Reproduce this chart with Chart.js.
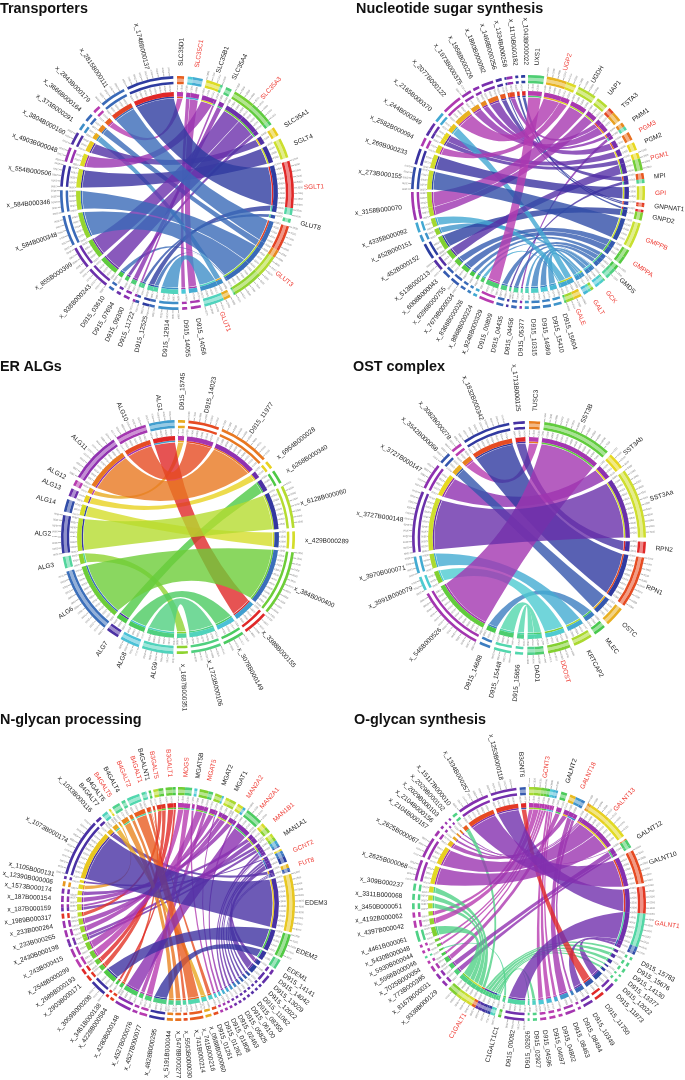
<!DOCTYPE html>
<html>
<head>
<meta charset="utf-8">
<title>Chord diagrams</title>
<script src="https://cdn.jsdelivr.net/npm/chart.js@4"></script>
<style>
html,body{margin:0;padding:0;background:#fff;width:685px;height:1080px;overflow:hidden}
#page{position:relative;width:685px;height:1080px;overflow:hidden}
canvas{position:absolute}
.ttl{position:absolute;font:bold 14.4px/16px "Liberation Sans",Arial,sans-serif;color:#111;white-space:nowrap;z-index:5}
</style>
</head>
<body>
<div id="page"></div>
<script>
/* ---------- Transporters ---------- */
const transportersNames = ['SLC35D1','SLC35C1','SLC35B1','SLC35A4','SLC35A3','SLC35A1','SGLT4','SGLT1','GLUT8','GLUT3','GLUT1','D915_14056','D915_14055','D915_12914','D915_12525','D915_11722','D915_09300','D915_07694','D915_03610','x_938B000243','x_855B000399','x_584B000348','x_584B000346','x_554B000506','x_4903B000048','x_3804B000160','x_373B000291','x_3666B000164','x_2843B000179','x_2815B000111','x_1748B000137'];
const transportersRed = ['SLC35C1','SLC35A3','SGLT1','GLUT3','GLUT1'];
const transportersLinks = [[0,28,3.5,3.7],[1,12,2.5,2.5],[1,11,5,5],[2,24,7.2,7.2],[2,15,1.3,1.3],[3,16,3,3],[4,19,11,11],[4,20,11,11],[4,17,2.2,2.2],[5,25,4.5,6.4],[6,23,10,10.8],[7,30,23.5,23.5],[7,14,3.5,3.5],[8,15,2,2],[9,29,13,13],[9,22,11,11],[9,21,15.2,15.2],[9,27,4,4],[9,14,0.3,2.7],[9,18,0.7,2.7],[10,13,10,10],[10,26,3.6,3.6]];
const transportersTicked = [2,4,7,9,10,13,14,15,19,20,21,22,23,24,25,29,30];

/* ---------- Nucleotide sugar synthesis ---------- */
const nucleotideNames = ['UXS1','UGP2','UGDH','UAP1','TSTA3','PMM1','PGM3','PGM2','PGM1','MPI','GPI','GNPNAT1','GNPD2','GMPPB','GMPPA','GMDS','GCK','GALT','GALE','D915_15604','D915_15410','D915_14869','D915_10315','D915_05377','D915_04456','D915_04435','D915_00809','x_9248B000329','x_8868B000224','x_8368B000026','x_7679B000034','x_6396B000755','x_6008B000043','x_513B000213','x_452B000152','x_452B000151','x_4335B000092','x_3158B000070','x_273B000155','x_269B000233','x_2582B000094','x_244B000349','x_2165B000370','x_2077B000122','x_1973B000375','x_1958B000226','x_1860B000092','x_1468B000256','x_1334B000258','x_1170B000182','x_1043B000022'];
const nucleotideRed = ['UGP2','PGM3','PGM1','GPI','GMPPB','GMPPA','GCK','GALT','GALE'];
const nucleotideLinks = [[0,27,8,7.5],[1,43,10,10],[1,40,5,4.5],[2,37,9.5,9],[3,37,6,5],[4,44,5,5],[4,48,3,3],[5,23,2,1.2],[5,45,2.2,3.2],[6,46,4.2,6],[7,41,4,4],[8,33,6,5.6],[8,41,3,3],[9,47,3,3],[9,25,2,1.2],[10,39,7,8],[11,48,1,1],[11,49,1,1.5],[12,34,4,8],[12,50,1.3,2],[13,38,13,11],[14,32,4,4],[14,31,4,4.5],[15,26,3,3.5],[15,24,2.5,2.7],[15,30,2.5,2.6],[16,21,2.5,4.2],[16,20,2.5,4],[16,29,0.6,1.8],[17,19,2.5,4],[17,22,1.5,2],[17,35,1.5,3.6],[18,42,4,5],[18,36,4,5],[18,28,1,2]];
const nucleotideTicked = [1,2,8,15,18,31,33,38,44];

/* ---------- ER ALGs ---------- */
const erNames = ['D915_15745','D915_14023','D915_11977','x_6954B000028','x_6268B000340','x_6128B000060','x_429B000289','x_384B000400','x_3388B000155','x_3078B000149','x_1723B000106','x_1687B000351','ALG9','ALG8','ALG7','ALG6','ALG3','ALG2','ALG14','ALG13','ALG12','ALG11','ALG10','ALG1'];
const erRed = [];
const erLinks = [[23,8,12.8,12.5],[22,1,15.6,15.4],[21,2,25.5,25.6],[20,0,3,3.5],[19,3,4,4],[18,6,6.3,8.7],[17,5,19,21.5],[16,11,5.8,5.5],[15,7,33.6,32.5],[14,4,6.3,7],[13,9,9.7,10.7],[12,10,15.7,15]];
const erTicked = [1,2,5,7,8,9,10,12,13,15,17,21,22,23];

/* ---------- OST complex ---------- */
const ostNames = ['TUSC3','SST3B','SST3Ab','SST3Aa','RPN2','RPN1','OSTC','MLEC','KRTCAP2','DDOST','DAD1','D915_15656','D915_15448','D915_14688','x_546B000526','x_3991B000079','x_3970B000071','x_3727B000148','x_3727B000147','x_3542B000068','x_3082B000278','x_1832B000342','x_1713B000125'];
const ostRed = ['DDOST'];
const ostLinks = [[0,20,5.5,5.6],[1,14,34.8,34],[2,18,8.3,13],[3,17,35,30.7],[4,22,5.8,5.7],[5,21,25.7,24],[6,19,10,5.8],[7,13,6,5.5],[8,16,9.5,8.4],[9,15,11.3,7],[10,12,4.5,8.6],[10,11,3.8,4]];
const ostTicked = [1,2,3,5,9,10,12,14,15,16,17,18,19,20,21];

/* ---------- N-glycan processing ---------- */
const nglycanNames = ['MOGS','MGAT5B','MGAT5','MGAT2','MGAT1','MAN2A2','MAN2A1','MAN1B1','MAN1A1','GCNT2','FUT8','EDEM3','EDEM2','EDEM1','D915_14141','D915_14042','D915_13029','D915_12022','D915_11062','D915_08355','D915_06100','D915_05825','D915_02463','D915_01808','D915_01262','D915_01261','x_0588B000060','x_741B000216','x_741B000214','x_5563B000030','x_5478B000277','x_5191B000044','x_4828B000295','x_4527B000077','x_4527B000076','x_4280B000148','x_4228B000584','x_3461B000138','x_3059B000208','x_2903B000171','x_2689B000193','x_2548B000299','x_243B000415','x_2430B000198','x_233B000265','x_233B000264','x_1989B000317','x_187B000159','x_187B000154','x_1573B000174','x_12390B000006','x_1105B000131','x_1073B000174','x_1033B000116','B4GALT7','B4GALT6','B4GALT5','B4GALT4','B4GALT2','B4GALT1','B4GALNT1','B3GALT5','B3GALT1'];
const nglycanRed = ['MOGS','MGAT5','MAN2A2','MAN2A1','MAN1B1','GCNT2','FUT8','B4GALT5','B4GALT2','B4GALT1','B3GALT5','B3GALT1'];
const nglycanLinks = [[0,33,3.5,3.9],[0,41,3.5,4.5],[1,25,1.5,1.4],[2,42,4.5,4.5],[2,34,2.3,2.5],[3,44,3.5,3.5],[3,24,1,1.4],[4,45,3.5,3.5],[4,47,2,1.5],[5,48,3,3],[5,23,1.4,1.4],[6,35,8.6,8.3],[7,49,2.5,2.5],[7,43,3,2],[8,43,2,2],[8,47,2,2],[8,22,1.6,1.4],[8,21,1.5,1.4],[8,14,0.5,2.5],[9,51,1,1.5],[9,15,3,4.5],[9,20,1.5,1.4],[9,19,1.5,1.4],[10,53,2,3],[10,18,0.7,1.4],[10,17,0.7,1.4],[10,16,0.6,1.4],[11,52,29,29],[12,38,12.3,8],[13,32,5,7.7],[54,27,3,3],[55,50,1,2.5],[56,31,4,3],[57,30,2,3],[58,28,6.5,6.7],[59,29,2,2],[59,26,0.5,2.4],[60,36,1.2,2],[61,39,2.5,3],[61,46,2.5,2.5],[62,40,3.5,3],[62,37,1.5,1.5]];
const nglycanTicked = [6,11,12,38,52];

/* ---------- O-glycan synthesis ---------- */
const oglycanNames = ['GCNT3','GALNT2','GALNT18','GALNT13','GALNT12','GALNT10','GALNT1','D915_15783','D915_15676','D915_14130','D915_13377','D915_12022','D915_11873','D915_11750','D915_10349','D915_08494','D915_08463','D915_04802','D915_04697','D915_04596','D915_02927','D915_02926','D915_00082','C1GALT1C1','C1GALT1','x_9338B000129','x_8167B000031','x_773B000385','x_7025B000054','x_5966B000046','x_5930B000044','x_5430B000048','x_4461B000061','x_4397B000042','x_4192B000062','x_3450B000051','x_3311B000068','x_309B000237','x_2625B000068','x_2625B000067','x_2104B000157','x_2104B000156','x_2029B000103','x_2029B000102','x_15117B000010','x_1334B000257','x_1253B000118','B3GNT6'];
const oglycanRed = ['GCNT3','GALNT18','GALNT13','GALNT1','C1GALT1'];
const oglycanLinks = [[0,34,2.5,2.5],[0,33,3.5,3.5],[0,31,1.5,1.5],[0,30,1.5,1.5],[0,28,1.5,1.5],[0,19,1.5,3],[0,18,1.5,3],[0,17,1,2],[1,27,3,3],[2,40,3,3],[2,16,3,5],[2,15,2,1.5],[3,39,11,10.5],[3,38,11,10.5],[3,41,1,1.5],[3,42,1,1],[4,26,3,3],[4,43,0.6,1],[4,25,1.4,3],[5,45,17,16],[6,46,13.5,13],[6,22,17,10],[6,14,2.5,5],[6,12,1.6,5],[47,13,3,5],[23,29,1.5,1],[24,44,2,2.5],[24,37,3,3.5],[24,36,3,3],[24,35,3,3],[24,32,5,5.5],[24,11,1.5,1.5],[24,10,1,1],[24,9,2,2],[24,8,2,2],[24,7,1.5,1.5],[24,20,1.5,2],[24,21,1,1]];
const oglycanTicked = [0,3,5,6,22,24,38,39,45,46];

/* ---------- page layout of the six panels ---------- */
/* geneRanges: index ranges of the named genes, whose outer band is filled */
const panels = [
  {title:'Transporters',              tx:0,   ty:0,   cx:177, cy:193, names:transportersNames, red:transportersRed, links:transportersLinks, ticked:transportersTicked, geneRanges:[[0,10]],        labelGap:5},
  {title:'Nucleotide sugar synthesis',tx:356, ty:0,   cx:528, cy:192, names:nucleotideNames,   red:nucleotideRed,   links:nucleotideLinks,   ticked:nucleotideTicked,   geneRanges:[[0,18]],        labelGap:4.8},
  {title:'ER ALGs',                   tx:0,   ty:358, cx:178, cy:537, names:erNames,           red:erRed,           links:erLinks,           ticked:erTicked,           geneRanges:[[12,23]],       labelGap:4},
  {title:'OST complex',               tx:353, ty:358, cx:529, cy:538, names:ostNames,          red:ostRed,          links:ostLinks,          ticked:ostTicked,          geneRanges:[[0,10]],        labelGap:4},
  {title:'N-glycan processing',       tx:0,   ty:711, cx:178, cy:904, names:nglycanNames,      red:nglycanRed,      links:nglycanLinks,      ticked:nglycanTicked,      geneRanges:[[0,13],[54,62]],labelGap:3.4},
  {title:'O-glycan synthesis',        tx:354, ty:711, cx:529, cy:904, names:oglycanNames,      red:oglycanRed,      links:oglycanLinks,      ticked:oglycanTicked,      geneRanges:[[0,6],[23,24],[47,47]],labelGap:3.6}
];

const PALETTE = [[0,'#b83cb0'],[.1,'#8a2fb0'],[.15,'#5c30a8'],[.2,'#3a32a0'],[.24,'#2c3ea0'],[.3,'#3a6ab8'],[.35,'#40a0d0'],[.4,'#4cc8d8'],[.45,'#52d8b0'],[.52,'#50d080'],[.6,'#48c848'],[.68,'#80d030'],[.76,'#c8e030'],[.82,'#e8d820'],[.88,'#e8a020'],[.94,'#e85820'],[1,'#e02828']];
function hex(c){return [1,3,5].map(i=>parseInt(c.substr(i,2),16));}
function hue(t){
  for(let i=1;i<PALETTE.length;i++){
    if(t<=PALETTE[i][0]){
      const a=PALETTE[i-1],b=PALETTE[i],f=(t-a[0])/(b[0]-a[0]),x=hex(a[1]),y=hex(b[1]);
      return x.map((v,k)=>Math.round(v+(y[k]-v)*f));
    }
  }
  return hex(PALETTE[PALETTE.length-1][1]);
}
const rgba=(c,a)=>`rgba(${c[0]},${c[1]},${c[2]},${a})`;

const R=117, HALF=182, CUT=95;
const TAU=Math.PI*2;

const chordPlugin={
  id:'chord',
  beforeDatasetsDraw(chart){
    const s=chart.$chord, band=chart.getDatasetMeta(4).data, ctx=chart.ctx;
    const c=band[0], cx=c.x, cy=c.y, r=CUT-0.4;
    ctx.save();
    const shrink=0.0025;
    const order=s.ribbons.slice().sort((p,q)=>(p.w-q.w));
    order.forEach(rb=>{
      const A=band[rb.a],B=band[rb.b];
      const a0=A.startAngle+shrink,a1=A.endAngle-shrink,b0=B.startAngle+shrink,b1=B.endAngle-shrink;
      const curve=(from,to)=>{
        let d=Math.abs(to-from)%TAU; if(d>Math.PI) d=TAU-d;
        const k=0.45*(1-d/Math.PI)*r;
        const mx=Math.cos(from)+Math.cos(to), my=Math.sin(from)+Math.sin(to);
        const m=Math.hypot(mx,my)||1;
        ctx.quadraticCurveTo(cx+mx/m*k,cy+my/m*k,cx+r*Math.cos(to),cy+r*Math.sin(to));
      };
      ctx.beginPath();
      ctx.arc(cx,cy,r,a0,a1);
      curve(a1,b0);
      ctx.arc(cx,cy,r,b0,b1);
      curve(b1,a0);
      ctx.closePath();
      ctx.fillStyle=rgba(rb.color,0.8);
      ctx.fill();
    });
    ctx.restore();
  },
  afterDatasetsDraw(chart){
    const s=chart.$chord, band=chart.getDatasetMeta(4).data, ctx=chart.ctx;
    const cx=band[0].x, cy=band[0].y;
    ctx.save();
    ctx.translate(cx,cy);
    const step=2.7*Math.PI/180;
    ctx.strokeStyle='#8f8f8f'; ctx.lineWidth=0.6; ctx.fillStyle='#7c7c7c';
    ctx.font='2.5px "Liberation Sans",Arial,sans-serif'; ctx.textBaseline='middle';
    const tickRow=(a0,a1,r0,r1,rt)=>{
      let n=0;
      for(let a=a0;a<=a1+1e-6;a+=step,n++){
        ctx.save(); ctx.rotate(a);
        ctx.beginPath(); ctx.moveTo(r0,0); ctx.lineTo(r1,0); ctx.stroke();
        ctx.textAlign='left';
        ctx.fillText(String(1000+n*500),rt,0);
        ctx.restore();
      }
    };
    s.sectors.forEach((sec,i)=>{
      const a0=band[sec.first].startAngle,a1=band[sec.last].endAngle;
      tickRow(a0,a1,101,102.2,102.4);
      if(s.ticked.includes(i)) tickRow(a0,a1,R,R+3.2,R+3.5);
    });
    const mids=s.sectors.map((sec,i)=>({i,a:(band[sec.first].startAngle+band[sec.last].endAngle)/2+Math.PI/2}));
    const gap=s.labelGap*Math.PI/180;
    for(let it=0;it<300;it++){
      for(let k=1;k<mids.length;k++){
        const d=mids[k].a-mids[k-1].a;
        if(d<gap){const p=(gap-d)/2; mids[k].a+=p; mids[k-1].a-=p;}
      }
    }
    ctx.font='6.5px "Liberation Sans",Arial,sans-serif';
    mids.forEach(m=>{
      const name=s.names[m.i];
      ctx.save();
      ctx.fillStyle=s.red.includes(name)?'#ee3a32':'#222';
      ctx.rotate(m.a-Math.PI/2);
      const ang=((m.a%TAU)+TAU)%TAU;
      if(ang>Math.PI){
        ctx.rotate(Math.PI); ctx.textAlign='right'; ctx.fillText(name,-(R+10),0);
      }else{
        ctx.textAlign='left'; ctx.fillText(name,R+10,0);
      }
      ctx.restore();
    });
    ctx.restore();
  }
};

function buildPanel(p){
  const page=document.getElementById('page');
  const t=document.createElement('div'); t.className='ttl'; t.textContent=p.title;
  t.style.left=p.tx+'px'; t.style.top=p.ty+'px'; page.appendChild(t);
  const cv=document.createElement('canvas');
  cv.width=HALF*2; cv.height=HALF*2;
  cv.style.cssText=`left:${p.cx-HALF}px;top:${p.cy-HALF}px;width:${HALF*2}px;height:${HALF*2}px`;
  page.appendChild(cv);

  const n=p.names.length;
  const colors=p.names.map((_,i)=>hue(i/(n-1)));
  const isGene=i=>p.geneRanges.some(g=>i>=g[0]&&i<=g[1]);

  const ends=p.names.map(()=>[]);
  p.links.forEach((l,li)=>{
    ends[l[0]].push({li,partner:l[1],w:l[2]});
    ends[l[1]].push({li,partner:l[0],w:l[3]});
  });
  const totals=ends.map(e=>e.reduce((s,x)=>s+x.w,0));
  const sum=totals.reduce((a,b)=>a+b,0);
  const gapVal=Math.max(0.5,(360-sum)/n);
  const starts=[]; let acc=0;
  totals.forEach((w,i)=>{starts[i]=acc; acc+=w+gapVal;});

  const data=[],band=[],partnerC=[],midC=[],sectors=[],pos={};
  ends.forEach((list,i)=>{
    const me=starts[i]+totals[i]/2;
    list.sort((x,y)=>{
      const dx=(starts[x.partner]+totals[x.partner]/2-me+360)%360;
      const dy=(starts[y.partner]+totals[y.partner]/2-me+360)%360;
      return dy-dx;
    });
    const first=data.length;
    list.forEach(e=>{
      pos[e.li+'_'+i]=data.length;
      data.push(e.w);
      band.push(rgba(colors[i],1));
      partnerC.push(rgba(colors[e.partner],1));
      midC.push(isGene(i)?rgba(colors[e.partner],0.55):'rgba(0,0,0,0)');
    });
    sectors.push({first,last:data.length-1});
    data.push(gapVal); band.push('rgba(0,0,0,0)'); partnerC.push('rgba(0,0,0,0)'); midC.push('rgba(0,0,0,0)');
  });
  const none=data.map(()=> 'rgba(0,0,0,0)');
  const ring=(bg,weight)=>({data,backgroundColor:bg,borderWidth:0,weight,hoverOffset:0});

  return new Chart(cv,{
    type:'doughnut',
    data:{labels:data.map((_,i)=>String(i)),datasets:[ring(partnerC,2.7),ring(midC,3),ring(partnerC,2.5),ring(none,8),ring(band,4.5),ring(partnerC,1.5)]},
    options:{
      responsive:false,animation:false,devicePixelRatio:1,
      rotation:0,circumference:360,cutout:CUT,
      layout:{padding:HALF-R},
      events:[],
      plugins:{legend:{display:false},tooltip:{enabled:false},title:{display:false}}
    },
    plugins:[{
      id:'chordData',
      beforeInit(ch){
        ch.$chord={
          sectors,names:p.names,red:p.red,ticked:p.ticked,labelGap:p.labelGap,
          ribbons:p.links.map((l,li)=>({a:pos[li+'_'+l[0]],b:pos[li+'_'+l[1]],color:colors[l[0]],w:l[2]}))
        };
      }
    },chordPlugin]
  });
}
panels.forEach(buildPanel);
</script>
</body>
</html>
